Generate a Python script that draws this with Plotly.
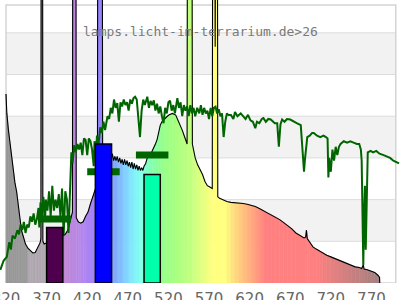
import plotly.graph_objects as go

# ---------------- data ----------------
SPEC_WL = [320, 321, 323, 325, 328, 331, 333, 335, 337, 339, 341, 344, 347, 350, 353, 356, 358, 360, 362,
           363, 363.4, 365, 365.4, 367, 370, 374, 378, 382, 386, 390, 393, 396, 398, 400, 401.8,
           402.3, 406, 406.5, 409, 412, 415, 418, 421, 424, 427, 429, 431, 432.6,
           433, 438.5, 439, 442, 445, 448, 449.5, 451, 452.5, 454, 455.5, 457, 458.5, 460, 461.5, 463,
           464.5, 466, 467.5, 469, 470.5, 472, 473.5, 475, 476.5, 478, 479.5, 481, 482.5, 484, 485.5,
           487, 488.5, 490, 492, 494, 496, 498, 500, 502, 504, 506, 508, 510, 512, 515, 518, 521, 525,
           529, 533, 537, 540, 543, 543.5, 549, 549.5, 551, 553, 556, 559, 562, 565, 568, 571, 574,
           574.6, 577, 577.6, 578.4, 580.3, 580.8, 583, 587, 592, 597, 602, 607, 612, 617, 622, 627,
           632, 637, 642, 647, 652, 657, 662, 667, 672, 677, 682, 687, 689, 690, 691, 694, 698, 702,
           706, 710, 715, 720, 725, 730, 735, 740, 745, 750, 755, 758, 760, 761, 765, 770, 774, 778,
           780, 780.3]
SPEC_VAL = [68, 61, 55, 50, 43, 36, 33, 28, 23, 19, 17, 14, 12.5, 11.5, 10.8, 11, 12, 13, 14.5,
            16, 150, 150, 15, 14, 14.5, 15, 15.3, 15.8, 16.3, 17, 17.5, 19, 21, 23.5, 25.5,
            150, 150, 23.5, 22, 21.5, 22, 24, 25.5, 28.5, 31, 33, 34.5, 36,
            150, 150, 46, 47, 46, 46, 44.5, 46.5, 44, 45.5, 44, 45.5, 43.5, 45, 43, 44.5,
            42.5, 44.5, 42.5, 44, 42, 43.5, 41.5, 43.5, 41, 43, 41, 42.5, 40.5, 42, 40.5,
            41.5, 40.5, 42, 43, 45, 45.5, 46, 47.5, 48.5, 50, 51.5, 54, 56.8, 58, 59, 59.8, 60.5, 61,
            60.4, 58, 55, 52.5, 50, 150, 150, 50, 48, 45, 42.5, 41, 39, 36.5, 35, 34.5, 34,
            150, 150, 85, 150, 150, 31, 30.5, 30, 29.3, 29, 28.9, 28.8, 28.6, 28.3, 28, 27.5,
            26.8, 26, 25, 24.5, 23.7, 22.8, 21.7, 20.6, 19.5, 18, 17.2, 16.2, 16.5, 19, 16, 14.5, 13, 12.2,
            11.5, 10.8, 10, 9.4, 8.8, 8.2, 7.6, 6.9, 6.2, 5.8, 5.6, 5.2, 6.5, 5, 4.8, 4.2, 3.8, 2.8,
            2, 0]

SUN_WL = [313, 317, 321, 324, 326, 328, 331, 334, 336, 338, 340, 342, 344, 346, 348, 350, 352, 354,
          356, 358, 360, 361, 362.5, 364, 366, 368, 369, 371, 373, 375, 377, 379, 381, 383, 385, 387,
          389, 391, 393, 395, 397, 399, 400.5, 402, 404, 406, 408, 410, 412, 414, 416, 418, 420, 422,
          424, 426, 428, 429, 431, 432, 434, 436, 438, 440, 442, 445, 447, 449, 451, 453, 455, 457,
          459, 461, 463, 465, 467, 469, 471, 473, 475, 477, 479, 481, 483, 485, 487, 489, 491, 494,
          496, 498, 500, 502, 504, 506, 508, 510, 512, 514, 516, 518, 520, 522, 524, 526, 528, 531,
          533, 535, 537, 539, 541, 543, 545, 547, 549, 551, 553, 555.5, 558, 560, 562, 564, 566, 568,
          570, 572, 574, 576, 578, 580, 582, 584, 586, 588, 590, 592, 594, 597, 600, 602, 605, 609,
          612, 615, 618, 621, 624, 627, 629, 632, 635, 637, 640, 643, 646, 649, 651, 654, 656, 658,
          660, 663, 666, 670, 674, 678, 683, 685, 687, 688, 689, 691, 694, 697, 699, 703, 707, 711,
          714, 716, 717, 718, 720, 722, 724, 726, 728, 730, 732, 736, 740, 744, 748, 752, 755, 757,
          758, 759, 760, 761, 762, 763, 764, 765.5, 769, 772, 776, 780, 785, 790, 793, 797, 800, 804]
SUN_VAL = [4.7, 8, 9.4, 14.7, 12, 17, 16, 19, 17.5, 21, 19, 22, 18, 21, 20, 24, 22, 25,
           21, 23, 27, 20, 29, 24, 31, 22, 30, 26, 33, 24, 35, 26, 30, 27, 32, 24,
           34, 17, 33, 30, 18, 38, 47, 43, 49.6, 47, 50, 48, 50.5, 46, 52, 51.5, 46, 52,
           51, 48, 42, 51, 47, 53, 50, 56, 54, 58, 55, 60, 59, 63, 61, 66, 63, 64.7,
           58, 65, 63.5, 66, 64, 65, 62, 66, 64.5, 66.5, 67, 66, 60, 52.5, 62, 66, 64, 67,
           63, 65.5, 64, 65.7, 62, 64.5, 61, 63.5, 60, 57.5, 63, 61, 65, 65.6, 62, 64, 61, 66.5,
           63, 65, 60, 64, 62, 63.5, 60, 64, 61, 63, 60, 63, 61, 64, 60.5, 63, 61, 62,
           59, 63, 60, 63, 63.4, 61, 62.5, 60, 61, 52.5, 58, 61, 60.4, 60.4, 59, 61.5, 60, 61,
           60, 59, 60.5, 58.5, 58, 55.7, 58, 57.5, 59, 59.3, 58, 59, 58.8, 58, 57.5, 57.5, 49, 57,
           58.8, 58, 59, 58.8, 58, 57.5, 56.8, 48, 40, 44, 47, 52.5, 53, 54, 54, 53, 52.5, 53,
           52.5, 52, 38, 45, 40, 48, 44, 49, 46, 49, 50, 51, 50.5, 51, 50.5, 50, 50, 48,
           44, 20, 6.5, 25, 35, 12, 30, 47, 47.5, 47, 47.5, 46.5, 46, 45.5, 45, 44, 43.5, 43]

BAR_WL = [380, 440, 500]
BAR_VAL = [20, 50, 39]
BAR_COLORS = ["#4e004e", "#0000ff", "#00ffaa"]

DASH_WL = [380, 440, 500]
DASH_VAL = [23, 40, 46]

TICKS = [320, 370, 420, 470, 520, 570, 620, 670, 720, 770]
TITLE = "lamps.licht-im-terrarium.de>26"

GRID_LINES = [15, 30, 45, 60, 75, 90]
GRAY_BANDS = [(15, 30), (45, 60), (75, 90)]

# colour stops of the spectrum fill (style)
COLOR_STOPS = [(320, "#999999"), (346.5, "#999999"), (347.5, "#b0a8b0"), (372, "#b0a8b0"),
               (378, "#c490c8"), (390, "#c088d0"), (410, "#b888e8"), (432, "#9f80ff"),
               (445, "#8090ff"), (455, "#80a8ff"), (465, "#80c8ff"), (475, "#80e8ff"),
               (485, "#80fff0"), (495, "#80ffc0"), (505, "#88ffa0"), (515, "#98ff88"),
               (530, "#a8ff80"), (546, "#c0ff80"), (560, "#e0ff80"), (575, "#ffff80"),
               (590, "#ffff80"), (600, "#ffe080"), (610, "#ffc880"), (620, "#ffb080"),
               (630, "#ff9880"), (640, "#ff8080"), (703, "#ff8080"), (740, "#d08080"),
               (781, "#a08080")]

BAR_HALF = 10
DASH_HALF = 20
X_MIN, X_MAX = 320, 800


def hex2rgb(h):
    h = h.lstrip("#")
    return tuple(int(h[i:i + 2], 16) for i in (0, 2, 4))


def wl_color(w):
    if w <= COLOR_STOPS[0][0]:
        return COLOR_STOPS[0][1]
    for (w0, c0), (w1, c1) in zip(COLOR_STOPS[:-1], COLOR_STOPS[1:]):
        if w0 <= w <= w1:
            t = (w - w0) / (w1 - w0) if w1 > w0 else 0
            a, b = hex2rgb(c0), hex2rgb(c1)
            r = [round(a[k] + (b[k] - a[k]) * t) for k in range(3)]
            return "rgb(%d,%d,%d)" % tuple(r)
    return COLOR_STOPS[-1][1]


fig = go.Figure()

# spectrum fill, sliced by wavelength
for i in range(len(SPEC_WL) - 1):
    w0, w1 = SPEC_WL[i], SPEC_WL[i + 1]
    v0, v1 = SPEC_VAL[i], SPEC_VAL[i + 1]
    c = wl_color((w0 + w1) / 2)
    fig.add_trace(go.Scatter(x=[w0, w0, w1, w1, w0], y=[0, v0, v1, 0, 0], mode="lines",
                             fill="toself", fillcolor=c, line=dict(color=c, width=0.6),
                             hoverinfo="skip", showlegend=False))

# spectrum outline
fig.add_trace(go.Scatter(x=SPEC_WL, y=SPEC_VAL, mode="lines",
                         line=dict(color="black", width=1.1), hoverinfo="skip", showlegend=False))

# daylight curve
fig.add_trace(go.Scatter(x=SUN_WL, y=SUN_VAL, mode="lines",
                         line=dict(color="#006400", width=2), hoverinfo="skip", showlegend=False))

# green dashes
for w, v in zip(DASH_WL, DASH_VAL):
    fig.add_trace(go.Scatter(x=[w - DASH_HALF, w + DASH_HALF], y=[v, v], mode="lines",
                             line=dict(color="#006400", width=7), hoverinfo="skip", showlegend=False))

# bars
for w, v, c in zip(BAR_WL, BAR_VAL, BAR_COLORS):
    fig.add_trace(go.Scatter(x=[w - BAR_HALF, w - BAR_HALF, w + BAR_HALF, w + BAR_HALF, w - BAR_HALF],
                             y=[0, v, v, 0, 0], mode="lines", fill="toself", fillcolor=c,
                             line=dict(color="black", width=1.5), hoverinfo="skip", showlegend=False))

shapes = []
for y0, y1 in GRAY_BANDS:
    shapes.append(dict(type="rect", xref="x", yref="y", x0=X_MIN, x1=X_MAX, y0=y0, y1=y1,
                       fillcolor="#f2f2f2", line=dict(width=0), layer="below"))
for g in GRID_LINES:
    shapes.append(dict(type="line", xref="x", yref="y", x0=X_MIN, x1=X_MAX, y0=g, y1=g,
                       line=dict(color="#dcdcdc", width=1), layer="below"))
shapes.append(dict(type="rect", xref="x", yref="y", x0=X_MIN, x1=X_MAX, y0=0, y1=100,
                   line=dict(color="#d4d4d4", width=1.5), layer="below"))

fig.update_layout(
    width=400, height=300,
    margin=dict(l=0, r=0, t=0, b=17, autoexpand=False),
    paper_bgcolor="white", plot_bgcolor="white",
    showlegend=False,
    shapes=shapes,
    xaxis=dict(range=[312.6, 805.2], showgrid=False, zeroline=False, showline=False,
               tickvals=TICKS, ticktext=[str(t) for t in TICKS], ticks="",
               ticklabeloverflow="allow", ticklabelstandoff=5,
               tickfont=dict(family="DejaVu Sans", size=15, color="#666666"), automargin=False),
    yaxis=dict(range=[0, 101.8], showgrid=False, zeroline=False, showline=False,
               showticklabels=False, ticks="", automargin=False),
    annotations=[dict(text=TITLE, xref="paper", yref="paper", x=0.5, y=0.89,
                      xanchor="center", yanchor="middle", showarrow=False,
                      font=dict(family="DejaVu Sans Mono", size=13, color="#7a7a7a"))],
)

fig.write_html("out.html")
